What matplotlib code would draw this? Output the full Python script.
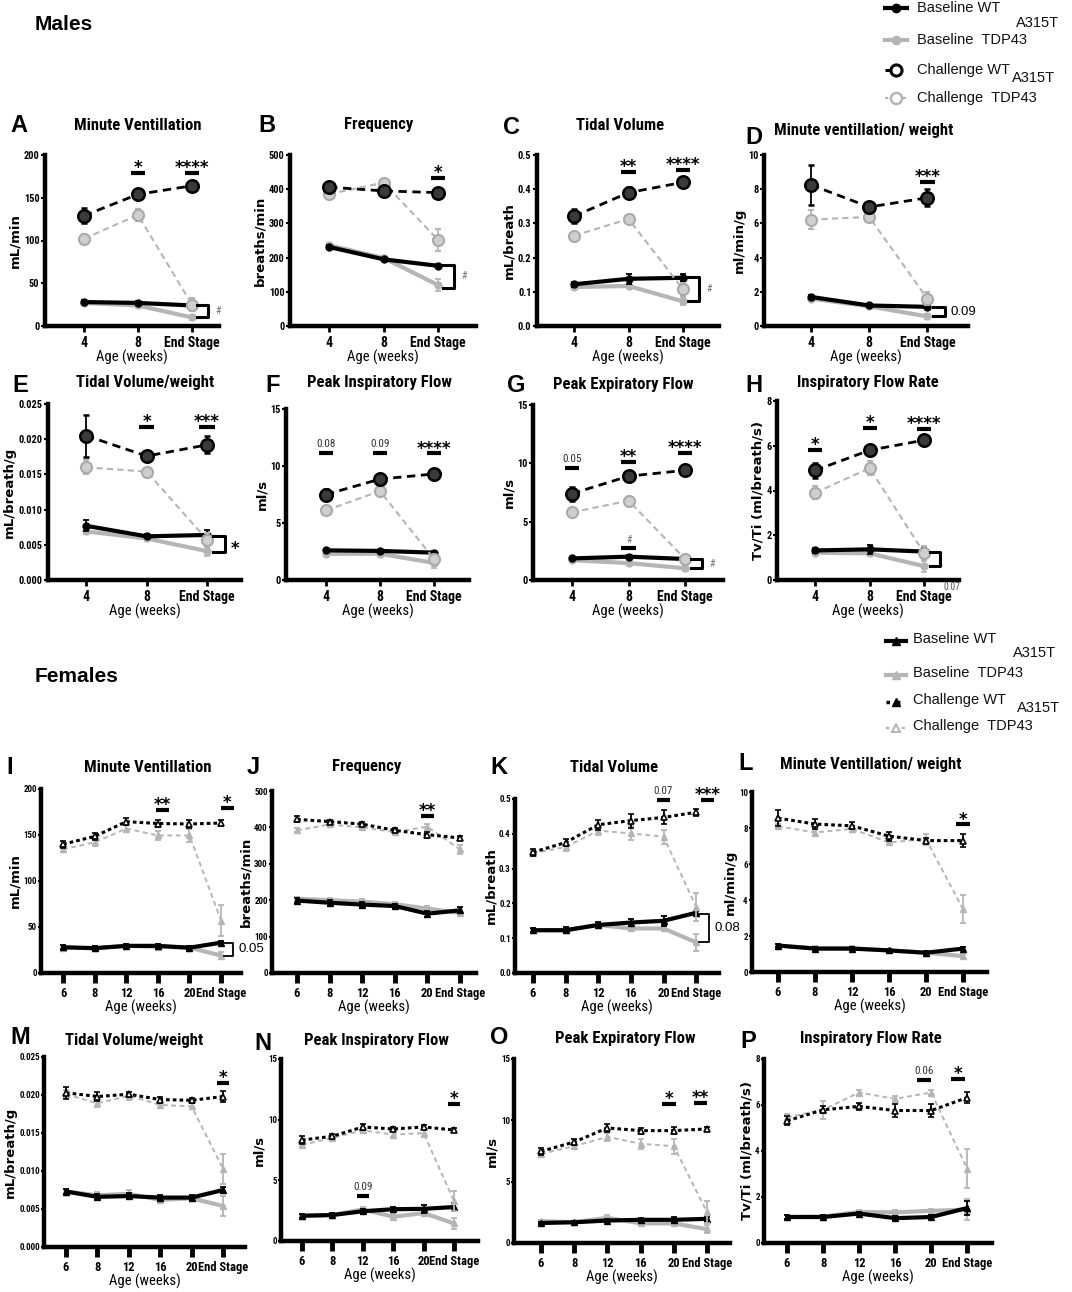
import matplotlib
matplotlib.use("Agg")
import matplotlib.pyplot as plt
from matplotlib import font_manager
from matplotlib.transforms import ScaledTranslation

W, H = 1072, 1292

# pick a condensed sans for the GraphPad-like labels, if one is installed
_fonts = {}
for _f in font_manager.fontManager.ttflist:
    _fonts.setdefault(_f.name, set()).add(str(_f.stretch))
NARROW, STRETCH = "Liberation Sans", "normal"
for _nm, _st in [("Liberation Sans Narrow", "normal"), ("Arial Narrow", "normal"),
                 ("Roboto Condensed", "normal"), ("Noto Sans Condensed", "normal"),
                 ("DejaVu Sans", "condensed"), ("Noto Sans", "condensed"),
                 ("Open Sans Condensed", "normal")]:
    if _nm in _fonts and (_st == "normal" or _st in _fonts[_nm]):
        NARROW, STRETCH = _nm, _st
        break
else:
    for _nm in _fonts:
        if "Condensed" in _nm or "Narrow" in _nm:
            NARROW, STRETCH = _nm, "normal"
            break
SC = 1.0 if NARROW != "Liberation Sans" else 0.86
NF = dict(family=NARROW, stretch=STRETCH)
ARIAL = "Liberation Sans"
plt.rcParams["font.family"] = [NARROW, "DejaVu Sans"]

BLACK = "black"
GRAY = "#b5b5b5"

male_ages = ["4", "8", "End Stage"]
female_ages = ["6", "8", "12", "16", "20", "End Stage"]

# ---------------- males: rows = baseline WT, baseline TDP43, challenge WT, challenge TDP43
A_mean = [[28, 27, 24], [27, 24, 10], [129, 154, 164], [102, 130, 25]]
A_sem = [[2, 2, 5], [2, 2, 3], [9, 5, 3], [6, 7, 8]]
B_mean = [[231, 195, 176], [236, 199, 120], [406, 395, 390], [386, 419, 252]]
B_sem = [[5, 5, 6], [8, 6, 18], [8, 10, 8], [15, 8, 32]]
C_mean = [[0.122, 0.138, 0.141], [0.114, 0.117, 0.072], [0.321, 0.390, 0.420], [0.264, 0.313, 0.107]]
C_sem = [[0.008, 0.015, 0.01], [0.005, 0.005, 0.012], [0.02, 0.015, 0.012], [0.01, 0.006, 0.02]]
D_mean = [[1.7, 1.2, 1.12], [1.6, 1.15, 0.56], [8.25, 6.96, 7.5], [6.22, 6.38, 1.6]]
D_sem = [[0.1, 0.06, 0.12], [0.1, 0.05, 0.15], [1.15, 0.2, 0.5], [0.55, 0.25, 0.4]]
E_mean = [[0.0077, 0.0062, 0.0064], [0.0069, 0.0059, 0.0041], [0.0205, 0.0176, 0.0192], [0.0160, 0.0154, 0.0057]]
E_sem = [[0.0008, 0.0003, 0.0007], [0.0003, 0.0003, 0.0007], [0.003, 0.0005, 0.0012], [0.001, 0.0004, 0.001]]
F_mean = [[2.6, 2.55, 2.4], [2.3, 2.3, 1.5], [7.5, 8.85, 9.3], [6.1, 7.8, 1.85]]
F_sem = [[0.15, 0.1, 0.15], [0.1, 0.1, 0.45], [0.5, 0.4, 0.2], [0.4, 0.45, 0.3]]
G_mean = [[1.85, 2.0, 1.8], [1.7, 1.45, 1.0], [7.4, 8.9, 9.4], [5.8, 6.8, 1.8]]
G_sem = [[0.15, 0.15, 0.15], [0.1, 0.1, 0.25], [0.6, 0.45, 0.3], [0.2, 0.3, 0.2]]
H_mean = [[1.32, 1.37, 1.27], [1.22, 1.19, 0.62], [4.9, 5.8, 6.25], [3.9, 5.0, 1.2]]
H_sem = [[0.1, 0.2, 0.2], [0.05, 0.1, 0.25], [0.35, 0.2, 0.1], [0.3, 0.3, 0.3]]

# ---------------- females
I_mean = [[28, 27, 29.5, 29.5, 27.5, 33], [27.5, 27, 29.5, 28.5, 27.5, 19],
          [140, 148.5, 164.5, 162.5, 162, 163], [134.5, 142, 157, 149.5, 149.5, 57]]
I_sem = [[2, 2, 2, 2, 2, 2], [2, 2, 2, 2, 2, 4], [4, 4, 4, 4, 4, 3], [3, 4, 4, 5, 7, 17]]
J_mean = [[199, 193, 188, 184, 163, 172], [204, 200, 196, 189, 177, 165],
          [422, 416, 409, 392, 380, 371], [392, 408, 400, 387, 402, 340]]
J_sem = [[6, 8, 6, 6, 8, 8], [6, 6, 8, 5, 8, 6], [8, 5, 5, 6, 8, 6], [6, 6, 5, 6, 8, 12]]
K_mean = [[0.123, 0.123, 0.138, 0.145, 0.150, 0.173], [0.123, 0.123, 0.138, 0.128, 0.128, 0.088],
          [0.347, 0.375, 0.426, 0.438, 0.447, 0.462], [0.344, 0.362, 0.409, 0.401, 0.392, 0.19]]
K_sem = [[0.005, 0.008, 0.008, 0.01, 0.015, 0.006], [0.004, 0.005, 0.006, 0.008, 0.008, 0.025],
         [0.01, 0.01, 0.015, 0.02, 0.02, 0.01], [0.008, 0.01, 0.012, 0.02, 0.02, 0.04]]
L_mean = [[1.47, 1.3, 1.3, 1.2, 1.07, 1.3], [1.47, 1.32, 1.32, 1.2, 1.07, 0.88],
          [8.55, 8.22, 8.12, 7.55, 7.3, 7.3], [8.1, 7.75, 7.95, 7.2, 7.38, 3.5]]
L_sem = [[0.07, 0.1, 0.1, 0.08, 0.08, 0.08], [0.07, 0.1, 0.1, 0.08, 0.08, 0.12],
         [0.45, 0.3, 0.2, 0.25, 0.15, 0.35], [0.1, 0.15, 0.15, 0.15, 0.3, 0.8]]
M_mean = [[0.0073, 0.0066, 0.0067, 0.0065, 0.0065, 0.0075], [0.0073, 0.0068, 0.0070, 0.0062, 0.0064, 0.0054],
          [0.0203, 0.0198, 0.0201, 0.0194, 0.0193, 0.0198], [0.0201, 0.0189, 0.0199, 0.0187, 0.0185, 0.0103]]
M_sem = [[0.0003, 0.0004, 0.0004, 0.0003, 0.0003, 0.0004], [0.0003, 0.0004, 0.0005, 0.0004, 0.0003, 0.0013],
         [0.0008, 0.0006, 0.0003, 0.0004, 0.0003, 0.0007], [0.0005, 0.0005, 0.0005, 0.0004, 0.0004, 0.002]]
N_mean = [[2.08, 2.14, 2.45, 2.62, 2.65, 2.8], [2.08, 2.14, 2.6, 2.0, 2.3, 1.45],
          [8.32, 8.63, 9.4, 9.23, 9.4, 9.15], [7.92, 8.49, 9.12, 8.77, 8.89, 3.3]]
N_sem = [[0.15, 0.15, 0.2, 0.2, 0.35, 0.3], [0.1, 0.1, 0.2, 0.2, 0.2, 0.45],
         [0.3, 0.2, 0.25, 0.2, 0.2, 0.2], [0.2, 0.2, 0.2, 0.2, 0.3, 0.8]]
O_mean = [[1.63, 1.69, 1.83, 1.89, 1.89, 1.97], [1.78, 1.7, 2.05, 1.6, 1.6, 1.13],
          [7.47, 8.23, 9.38, 9.16, 9.16, 9.3], [7.27, 7.89, 8.65, 8.09, 7.89, 2.5]]
O_sem = [[0.1, 0.1, 0.15, 0.15, 0.25, 0.15], [0.1, 0.1, 0.2, 0.15, 0.15, 0.35],
         [0.3, 0.25, 0.3, 0.25, 0.3, 0.15], [0.2, 0.2, 0.3, 0.4, 0.6, 0.9]]
P_mean = [[1.13, 1.13, 1.28, 1.08, 1.13, 1.52], [1.13, 1.15, 1.35, 1.33, 1.4, 1.45],
          [5.31, 5.79, 5.94, 5.76, 5.76, 6.32], [5.46, 5.79, 6.54, 6.27, 6.54, 3.23]]
P_sem = [[0.08, 0.08, 0.08, 0.1, 0.08, 0.3], [0.08, 0.08, 0.1, 0.1, 0.1, 0.45],
         [0.2, 0.15, 0.15, 0.3, 0.3, 0.25], [0.15, 0.4, 0.1, 0.1, 0.1, 0.85]]

# significance bars: (age position, bar height, label)
A_sig = [(1, 179, "*"), (2, 179, "****")]
B_sig = [(2, 434, "*")]
C_sig = [(1, 0.45, "**"), (2, 0.457, "****")]
D_sig = [(2, 8.45, "***")]
E_sig = [(1, 0.0217, "*"), (2, 0.0217, "***")]
F_sig = [(0, 11.1, "0.08"), (1, 11.1, "0.09"), (2, 11.1, "****")]
G_sig = [(0, 9.6, "0.05"), (1, 10.1, "**"), (2, 10.9, "****"), (1, 2.75, "#")]
H_sig = [(0, 5.8, "*"), (1, 6.8, "*"), (2, 6.75, "****")]
I_sig = [(3.15, 177, "**"), (5.2, 179, "*")]
J_sig = [(4, 432, "**")]
K_sig = [(4, 0.497, "0.07"), (5.35, 0.497, "***")]
L_sig = [(5, 8.2, "*")]
M_sig = [(5, 0.0216, "*")]
N_sig = [(2, 3.7, "0.09"), (5, 11.3, "*")]
O_sig = [(3.85, 11.35, "*"), (4.8, 11.4, "**")]
P_sig = [(3.8, 7.1, "0.06"), (4.75, 7.15, "*")]

# baseline WT vs TDP43 brackets at end stage: (top, bottom, label)
A_br = (25, 10, "#")
B_br = (178, 112, "#")
C_br = (0.142, 0.072, "#")
D_br = (1.11, 0.56, "0.09")
E_br = (0.0063, 0.0040, "*")
G_br = (1.8, 1.0, "#")
H_br = (1.27, 0.62, "0.07")
I_br = (33, 19, "0.05")
K_br = (0.17, 0.088, "0.08")

fig = plt.figure(figsize=(W / 100, H / 100), dpi=100)

# overlay in pixel coordinates for headers and legends
ov = fig.add_axes([0, 0, 1, 1], zorder=-1)
ov.set_xlim(0, W)
ov.set_ylim(H, 0)
ov.axis("off")


def panel(letter, title, ylabel, rect, xlim, ages, mean, sem, ymax, ystep, yfmt,
          sig, br, female, letter_xy, title_xy):
    x0, x1, yt, yb = rect
    ax = fig.add_axes([x0 / W, 1 - yb / H, (x1 - x0) / W, (yb - yt) / H])
    x = list(range(len(ages)))
    if female:
        styles = [
            dict(color=BLACK, lw=3, ls="-", marker="^", ms=4, mfc=BLACK, mec=BLACK, zorder=4),
            dict(color=GRAY, lw=3, ls="-", marker="^", ms=4, mfc=GRAY, mec=GRAY, zorder=3),
            dict(color=BLACK, lw=2.2, ls=(0, (1.2, 1.0)), marker="^", ms=4.5, mfc="white", mec=BLACK, mew=1.2, zorder=6),
            dict(color=GRAY, lw=1.4, ls=(0, (2.5, 1.8)), marker="^", ms=4.5, mfc=GRAY, mec=GRAY, zorder=5),
        ]
    else:
        styles = [
            dict(color=BLACK, lw=3, ls="-", marker="o", ms=5, mfc=BLACK, mec=BLACK, zorder=4),
            dict(color=GRAY, lw=3, ls="-", marker="o", ms=5, mfc=GRAY, mec=GRAY, zorder=3),
            dict(color=BLACK, lw=2, ls=(0, (3, 2)), marker="o", ms=9, mfc="#3a3a3a", mec=BLACK, mew=1.8, zorder=6),
            dict(color=GRAY, lw=1.5, ls=(0, (3, 2)), marker="o", ms=8, mfc="#cfcfcf", mec="#aaaaaa", mew=1.5, zorder=5),
        ]
    for m, s, st in zip(mean, sem, styles):
        ax.errorbar(x, m, yerr=s, capsize=2.5, elinewidth=1.3, capthick=1.3, **st)

    ax.set_xlim(*xlim)
    ax.set_ylim(0, ymax)
    ax.set_xticks(x)
    labs = ax.set_xticklabels(ages, fontsize=(9 if female else 10) * SC, fontweight="bold", **NF)
    if female:
        labs[-1].set_transform(labs[-1].get_transform() + ScaledTranslation(9 / 100, 0, fig.dpi_scale_trans))
    ticks = [i * ystep for i in range(int(round(ymax / ystep)) + 1)]
    ax.set_yticks(ticks)
    ax.set_yticklabels([yfmt.format(t) for t in ticks], fontsize=(6.5 if female else 7.5) * SC ** 0.5,
                       fontweight="bold", **NF)
    for side in ("top", "right"):
        ax.spines[side].set_visible(False)
    for side in ("left", "bottom"):
        ax.spines[side].set_linewidth(3.2)
    if female:
        ax.tick_params(axis="x", width=3.5, length=7, pad=3)
        ax.tick_params(axis="y", width=1.5, length=2, pad=1)
    else:
        ax.tick_params(axis="x", width=2, length=4, pad=3)
        ax.tick_params(axis="y", width=1.5, length=3, pad=1)
    ax.set_xlabel("Age (weeks)", fontsize=10.5 * SC, labelpad=0, **NF)
    ax.set_ylabel(ylabel, fontsize=9.5, fontweight="bold", family="DejaVu Sans", stretch="normal",
                  labelpad=1.5)

    hw = 0.2 if female else 0.13
    for xp, yv, txt in sig:
        ax.plot([xp - hw, xp + hw], [yv, yv], color=BLACK, lw=3, solid_capstyle="butt", clip_on=False, zorder=7)
        if txt.startswith("*"):
            ax.annotate(txt, (xp, yv), xytext=(0, -3), textcoords="offset points", ha="center",
                        va="bottom", fontsize=12, fontweight="bold", family="DejaVu Sans", stretch="normal",
                        annotation_clip=False)
        elif txt == "#":
            ax.annotate(txt, (xp, yv), xytext=(0, 2), textcoords="offset points", ha="center",
                        va="bottom", fontsize=7, color="#777777", annotation_clip=False)
        else:
            ax.annotate(txt, (xp, yv), xytext=(0, 3), textcoords="offset points", ha="center",
                        va="bottom", fontsize=8 * SC, color="#333333", annotation_clip=False, **NF)

    if br is not None:
        top, bot, lab = br
        end = len(ages) - 1
        xa, xb = end + 0.1, end + (0.38 if female else 0.3)
        lw = 1.3 if lab in ("0.08", "0.05") else 2.2
        ax.plot([xa, xb, xb, xa], [top, top, bot, bot], color=BLACK, lw=lw, clip_on=False, zorder=7)
        mid = (top + bot) / 2
        if lab == "#":
            ax.annotate(lab, (xb, mid), xytext=(5, 0), textcoords="offset points", va="center",
                        fontsize=7, color="#777777", annotation_clip=False)
        elif lab == "*":
            ax.annotate(lab, (xb, mid), xytext=(4, -4), textcoords="offset points", va="center",
                        fontsize=12, fontweight="bold", family="DejaVu Sans", stretch="normal",
                        annotation_clip=False)
        elif lab == "0.07":
            ax.annotate(lab, (xb, 0), xytext=(2, -5), textcoords="offset points", va="center",
                        fontsize=7, color="#555555", annotation_clip=False)
        else:
            ax.annotate(lab, (xb, mid), xytext=(4, 0), textcoords="offset points", va="center",
                        fontsize=9.5, family=ARIAL, stretch="normal", annotation_clip=False)

    ov.text(letter_xy[0], letter_xy[1], letter, fontsize=17, fontweight="bold", family=ARIAL,
            stretch="normal", ha="left", va="center")
    ov.text(title_xy[0], title_xy[1], title, fontsize=12 * SC, fontweight="bold", ha="center",
            va="center", **NF)
    return ax


panel("A", "Minute Ventillation", "mL/min", (45, 219, 155, 326), (-0.72, 2.5), male_ages,
      A_mean, A_sem, 200, 50, "{:.0f}", A_sig, A_br, False, (10, 126), (138, 126))
panel("B", "Frequency", "breaths/min", (290, 476, 155, 326), (-0.72, 2.7), male_ages,
      B_mean, B_sem, 500, 100, "{:.0f}", B_sig, B_br, False, (258, 126), (379, 124))
panel("C", "Tidal Volume", "mL/breath", (537, 719, 155, 326), (-0.68, 2.66), male_ages,
      C_mean, C_sem, 0.5, 0.1, "{:.1f}", C_sig, C_br, False, (503, 128), (620, 125))
panel("D", "Minute ventillation/ weight", "ml/min/g", (764, 968, 155, 326), (-0.81, 2.7), male_ages,
      D_mean, D_sem, 10, 2, "{:.0f}", D_sig, D_br, False, (745, 137), (864, 131))
panel("E", "Tidal Volume/weight", "mL/breath/g", (48, 241, 404, 580), (-0.63, 2.56), male_ages,
      E_mean, E_sem, 0.025, 0.005, "{:.3f}", E_sig, E_br, False, (12, 386), (145, 382))
panel("F", "Peak Inspiratory Flow", "ml/s", (286, 469, 409, 580), (-0.74, 2.65), male_ages,
      F_mean, F_sem, 15, 5, "{:.0f}", F_sig, None, False, (265, 386), (379, 382))
panel("G", "Peak Expiratory Flow", "ml/s", (533, 723, 405, 580), (-0.69, 2.67), male_ages,
      G_mean, G_sem, 15, 5, "{:.0f}", G_sig, G_br, False, (507, 386), (623, 385))
panel("H", "Inspiratory Flow Rate", "Tv/Ti (ml/breath/s)", (777, 959, 401, 580), (-0.7, 2.64), male_ages,
      H_mean, H_sem, 8, 2, "{:.0f}", H_sig, H_br, False, (745, 386), (868, 383))

panel("I", "Minute Ventillation", "mL/min", (41, 241, 789, 973), (-0.7, 5.63), female_ages,
      I_mean, I_sem, 200, 50, "{:.0f}", I_sig, I_br, True, (6, 767), (148, 768))
panel("J", "Frequency", "breaths/min", (272, 476, 791, 973), (-0.77, 5.5), female_ages,
      J_mean, J_sem, 500, 100, "{:.0f}", J_sig, None, True, (247, 767), (367, 767))
panel("K", "Tidal Volume", "mL/breath", (515, 719, 799, 973), (-0.55, 5.7), female_ages,
      K_mean, K_sem, 0.5, 0.1, "{:.1f}", K_sig, K_br, True, (490, 767), (614, 768))
panel("L", "Minute Ventillation/ weight", "ml/min/g", (752, 987, 792, 972), (-0.7, 5.65), female_ages,
      L_mean, L_sem, 10, 2, "{:.0f}", L_sig, None, True, (738, 764), (871, 765))
panel("M", "Tidal Volume/weight", "mL/breath/g", (44, 245, 1057, 1247), (-0.7, 5.7), female_ages,
      M_mean, M_sem, 0.025, 0.005, "{:.3f}", M_sig, None, True, (10, 1038), (134, 1041))
panel("N", "Peak Inspiratory Flow", "ml/s", (281, 478, 1059, 1241), (-0.69, 5.79), female_ages,
      N_mean, N_sem, 15, 5, "{:.0f}", N_sig, None, True, (254, 1043), (376, 1040))
panel("O", "Peak Expiratory Flow", "ml/s", (514, 730, 1059, 1243), (-0.81, 5.69), female_ages,
      O_mean, O_sem, 15, 5, "{:.0f}", O_sig, None, True, (490, 1038), (625, 1038))
panel("P", "Inspiratory Flow Rate", "Tv/Ti (ml/breath/s)", (764, 992, 1059, 1243), (-0.64, 5.69), female_ages,
      P_mean, P_sem, 8, 2, "{:.0f}", P_sig, None, True, (740, 1041), (871, 1038))

# section headers
ov.text(35, 25, "Males", fontsize=15, fontweight="bold", family=ARIAL, stretch="normal", va="center")
ov.text(35, 676, "Females", fontsize=15, fontweight="bold", family=ARIAL, stretch="normal", va="center")

legend_labels = ["Baseline WT", "Baseline  TDP43", "Challenge WT", "Challenge  TDP43"]
LT = dict(fontsize=10.5, family=ARIAL, stretch="normal", va="center", color="#111111")

# males legend
m_rows = [8, 40, 70, 98]
m_leg = [
    dict(color=BLACK, lw=3, ls="-", marker="o", ms=6, mfc=BLACK, mec=BLACK, mew=1),
    dict(color=GRAY, lw=3, ls="-", marker="o", ms=6, mfc=GRAY, mec=GRAY, mew=1),
    dict(color=BLACK, lw=2.2, ls=(0, (1.5, 2.5)), marker="o", ms=8, mfc="white", mec=BLACK, mew=2.2),
    dict(color=GRAY, lw=1.6, ls=(0, (1.5, 2.5)), marker="o", ms=8, mfc="white", mec=GRAY, mew=1.8),
]
for yr, st, lab in zip(m_rows, m_leg, legend_labels):
    ov.plot([885, 907], [yr, yr], color=st["color"], lw=st["lw"], ls=st["ls"])
    ov.plot([896], [yr], marker=st["marker"], ms=st["ms"], mfc=st["mfc"], mec=st["mec"],
            mew=st["mew"], ls="none")
    ov.text(917, yr, lab, **LT)
ov.text(1016, 23, "A315T", **LT)
ov.text(1012, 78, "A315T", **LT)

# females legend
f_rows = [641, 675, 702, 728]
f_leg = [
    dict(color=BLACK, lw=3, ls="-", marker="^", ms=6, mfc=BLACK, mec=BLACK, mew=1),
    dict(color=GRAY, lw=3, ls="-", marker="^", ms=6, mfc=GRAY, mec=GRAY, mew=1),
    dict(color=BLACK, lw=2.5, ls=(0, (1, 2)), marker="^", ms=6, mfc=BLACK, mec=BLACK, mew=1),
    dict(color=GRAY, lw=1.6, ls=(0, (1.5, 2)), marker="^", ms=6, mfc="white", mec=GRAY, mew=1.5),
]
for yr, st, lab in zip(f_rows, f_leg, legend_labels):
    ov.plot([886, 906], [yr, yr], color=st["color"], lw=st["lw"], ls=st["ls"])
    ov.plot([896], [yr], marker=st["marker"], ms=st["ms"], mfc=st["mfc"], mec=st["mec"],
            mew=st["mew"], ls="none")
    ov.text(913, yr - 2, lab, **LT)
ov.text(1013, 653, "A315T", **LT)
ov.text(1017, 708, "A315T", **LT)

fig.savefig("out.png", dpi=100, facecolor="white")
